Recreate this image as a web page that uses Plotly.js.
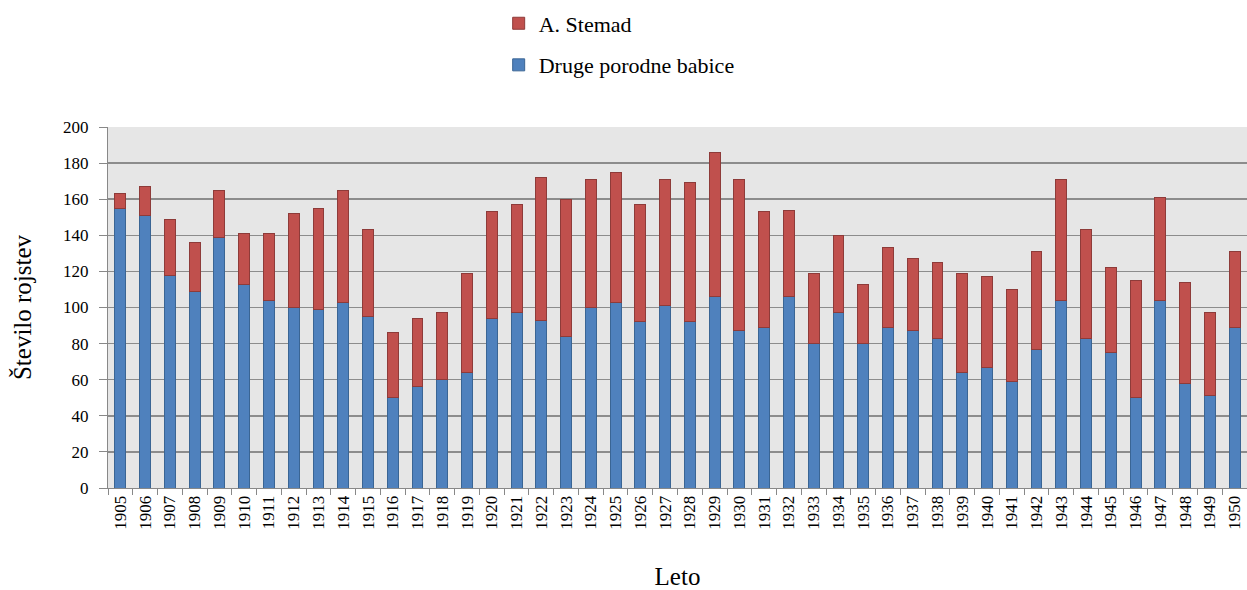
<!DOCTYPE html>
<html>
<head>
<meta charset="utf-8">
<script src="https://cdn.plot.ly/plotly-3.0.1.min.js"></script>
<style>html,body{margin:0;padding:0;background:#fff;}#chart{width:1247px;height:590px;}</style>
</head>
<body>
<div id="chart"></div>
<script>
const years = ["1905","1906","1907","1908","1909","1910","1911","1912","1913","1914","1915","1916","1917","1918","1919","1920","1921","1922","1923","1924","1925","1926","1927","1928","1929","1930","1931","1932","1933","1934","1935","1936","1937","1938","1939","1940","1941","1942","1943","1944","1945","1946","1947","1948","1949","1950"];
const druge = [155,151,118,109,139,113,104,100,99,103,95,50,56,60,64,94,97,93,84,100,103,92,101,92,106,87,89,106,80,97,80,89,87,83,64,67,59,77,104,83,75,50,104,58,51,89];
const stemad = [8,16,31,27,26,28,37,52,56,62,48,36,38,37,55,59,60,79,76,71,72,65,70,77,80,84,64,48,39,43,33,44,40,42,55,50,51,54,67,60,47,65,57,56,46,42];

const serif = "Liberation Serif";
const traces = [
  {type:"bar", name:"Druge porodne babice", x:years, y:druge, legendgroup:"a", legendrank:2,
   marker:{color:"#4F81BD", line:{color:"#3A6594", width:1}}},
  {type:"bar", name:"A. Stemad", x:years, y:stemad, legendgroup:"b", legendrank:1,
   marker:{color:"#C0504D", line:{color:"#8E3B39", width:1}}}
];
const layout = {
  width:1247, height:590,
  barmode:"stack", bargap:0.56,
  paper_bgcolor:"#ffffff", plot_bgcolor:"#e6e6e6",
  margin:{l:108, r:0, t:127, b:102},
  font:{family:serif, color:"#000"},
  showlegend:true,
  legend:{x:0.343, xanchor:"left", y:1.345, yanchor:"top", traceorder:"grouped", tracegroupgap:10,
    font:{family:serif, size:22, color:"#000"}, bgcolor:"rgba(0,0,0,0)"},
  xaxis:{type:"category", tickangle:-90, ticks:"outside", tickson:"boundaries", ticklen:6, tickcolor:"#888",
    showline:true, linecolor:"#888", linewidth:1, showgrid:false,
    tickfont:{family:serif, size:17, color:"#000"},
    title:{text:"Leto", font:{family:serif, size:25, color:"#000"}, standoff:41}},
  yaxis:{range:[0,200], dtick:20, ticks:"outside", ticklen:8, tickcolor:"#888",
    showline:true, linecolor:"#888", linewidth:1, ticklabelstandoff:7,
    gridcolor:"#8c8c8c", gridwidth:1.5, zeroline:false,
    tickfont:{family:serif, size:17, color:"#000"},
    title:{text:"Število rojstev", font:{family:serif, size:25, color:"#000"}, standoff:24}}
};
Plotly.newPlot("chart", traces, layout, {displayModeBar:false, staticPlot:true});
</script>
</body>
</html>
